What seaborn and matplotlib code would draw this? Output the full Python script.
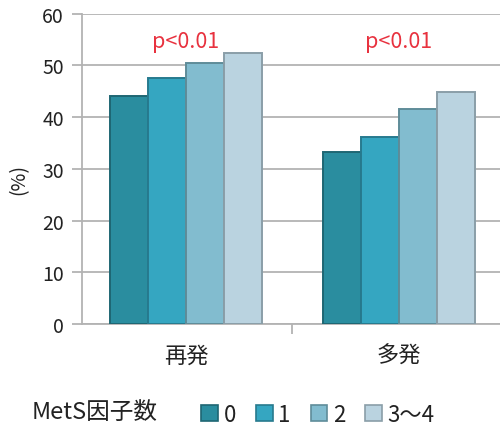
import matplotlib
matplotlib.use("Agg")
import matplotlib.pyplot as plt
from matplotlib.patches import Patch
import seaborn as sns
import pandas as pd

# Data
groups = ["再発", "多発"]
factor_levels = ["0", "1", "2", "3〜4"]
recurrence = [44.0, 47.6, 50.4, 52.5]
multiple = [33.3, 36.2, 41.6, 44.8]
p_labels = ["p<0.01", "p<0.01"]
y_ticks = [0, 10, 20, 30, 40, 50, 60]

bar_colors = ["#2A8D9F", "#35A6C1", "#82BCCF", "#BAD3E0"]
edge_colors = ["#1E6673", "#277A8E", "#5F8C99", "#8A9EA8"]

sns.set_theme(style="white")
plt.rcParams["font.family"] = ["Noto Sans CJK JP", "DejaVu Sans"]

df = pd.DataFrame({
    "group": [g for g in groups for _ in factor_levels],
    "level": factor_levels * len(groups),
    "value": recurrence + multiple,
})

fig = plt.figure(figsize=(5.0, 4.35), dpi=100)
ax = fig.add_axes([0.164, 0.253, 0.836, 0.713])

sns.barplot(data=df, x="group", y="value", hue="level", order=groups,
            hue_order=factor_levels, palette=bar_colors, saturation=1,
            width=0.71, gap=0, errorbar=None, legend=False, ax=ax, zorder=3)

# darker bevel-like outline per series
for container, ec in zip(ax.containers, edge_colors):
    for bar in container:
        bar.set_edgecolor(ec)
        bar.set_linewidth(1.4)

ax.set_ylim(0, 60)
ax.set_xlim(-0.488, 1.474)
ax.set_yticks(y_ticks)
ax.yaxis.grid(True, color="#B3B3B3", linewidth=1.3, zorder=0)
ax.set_axisbelow(True)
for s in ["top", "right"]:
    ax.spines[s].set_visible(False)
for s in ["left", "bottom"]:
    ax.spines[s].set_color("#B3B3B3")
    ax.spines[s].set_linewidth(1.3)

ax.tick_params(axis="y", which="major", length=7, width=1.3, color="#B3B3B3",
               labelsize=14, pad=6, left=True, labelcolor="#222222")
ax.set_xticks([0.5], minor=True)
ax.tick_params(axis="x", which="minor", length=7, width=1.3, color="#B3B3B3", bottom=True)
ax.tick_params(axis="x", which="major", length=0, labelsize=16, pad=14, labelcolor="#222222")
ax.set_xlabel("")
ax.set_ylabel("(%)", fontsize=14, color="#222222")
ax.yaxis.set_label_coords(-0.127, 0.47)

for i, txt in enumerate(p_labels):
    ax.text(i, 54.7, txt, ha="center", va="center", color="#E8323F", fontsize=15.5)

fig.text(0.064, 0.052, "MetS因子数", fontsize=17, color="#222222", va="center")
handles = [Patch(facecolor=c, edgecolor=e, linewidth=1.2) for c, e in zip(bar_colors, edge_colors)]
fig.legend(handles, factor_levels, loc="center left", bbox_to_anchor=(0.385, 0.045),
           ncol=4, frameon=False, fontsize=16, handlelength=0.75, handleheight=0.75,
           handletextpad=0.25, columnspacing=0.9, borderaxespad=0, labelcolor="#222222")

fig.savefig("out.png", dpi=100)
